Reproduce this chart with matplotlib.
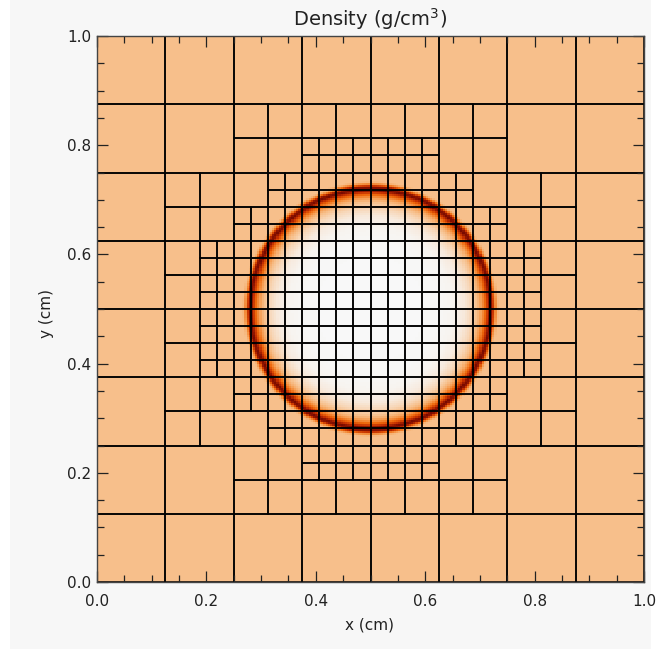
import numpy as np
import matplotlib.pyplot as plt
from matplotlib.colors import LinearSegmentedColormap
from matplotlib.patches import Rectangle
from matplotlib.ticker import MultipleLocator

# radial density profile (r in cm, rho in g/cm^3)
profile_r = [0.0, 0.12, 0.15, 0.17, 0.185, 0.195, 0.200, 0.205, 0.210, 0.215, 0.219, 0.223, 0.227, 0.231, 0.234, 1.0]
profile_rho = [0.0, 0.02, 0.08, 0.25, 0.6, 1.0, 1.4, 2.0, 2.7, 3.5, 4.2, 3.9, 2.5, 1.3, 1.0, 1.0]
center_x, center_y = 0.5, 0.5
n_cells = 256  # 32 finest blocks x 8 cells

# AMR mesh: 8x8 root blocks; refined blocks given per row (row, first col, last col)
lvl1_rows = [1, 2, 3, 4, 5, 6]
lvl1_first = [2, 1, 1, 1, 1, 2]
lvl1_last = [5, 6, 6, 6, 6, 5]
lvl2_rows = [3, 4, 5, 6, 7, 8, 9, 10, 11, 12]
lvl2_first = [6, 5, 4, 3, 3, 3, 3, 4, 5, 6]
lvl2_last = [9, 10, 11, 12, 12, 12, 12, 11, 10, 9]

ticks = [0.0, 0.2, 0.4, 0.6, 0.8, 1.0]


def refined_set(rows, first, last):
    return {(i, j) for j, a, b in zip(rows, first, last) for i in range(a, b + 1)}


ref1 = refined_set(lvl1_rows, lvl1_first, lvl1_last)
ref2 = refined_set(lvl2_rows, lvl2_first, lvl2_last)

blocks = []
for i in range(8):
    for j in range(8):
        if (i, j) not in ref1:
            blocks.append((i / 8, j / 8, 1 / 8))
            continue
        for di in (0, 1):
            for dj in (0, 1):
                mi, mj = 2 * i + di, 2 * j + dj
                if (mi, mj) not in ref2:
                    blocks.append((mi / 16, mj / 16, 1 / 16))
                    continue
                for ei in (0, 1):
                    for ej in (0, 1):
                        blocks.append(((2 * mi + ei) / 32, (2 * mj + ej) / 32, 1 / 32))

# density field on the finest cells
xc = (np.arange(n_cells) + 0.5) / n_cells
X, Y = np.meshgrid(xc, xc)
R = np.hypot(X - center_x, Y - center_y)
rho = np.interp(R, profile_r, profile_rho)

cmap = LinearSegmentedColormap.from_list(
    "dens",
    [(0.0, "#f8f8f8"), (0.238, "#f7bf8a"), (0.43, "#f5984a"),
     (0.62, "#ee680c"), (0.81, "#c43000"), (1.0, "#780a00")],
)

fig = plt.figure(figsize=(6.56, 6.49), dpi=100, facecolor="white")
fig.patches.append(Rectangle((10 / 656, 0), 641 / 656, 1, transform=fig.transFigure,
                             facecolor="#f7f7f7", edgecolor="none", zorder=-10))
ax = fig.add_axes([97 / 656, 67 / 649, 547 / 656, 546 / 649])

ax.imshow(rho, origin="lower", extent=[0, 1, 0, 1], cmap=cmap, vmin=0, vmax=4.2,
          interpolation="nearest", aspect="auto")

for x0, y0, s in blocks:
    ax.add_patch(Rectangle((x0, y0), s, s, fill=False, edgecolor="#000000", linewidth=1.1))

ax.set_xlim(0, 1)
ax.set_ylim(0, 1)
ax.set_xticks(ticks)
ax.set_yticks(ticks)
ax.set_xticklabels([f"{t:.1f}" for t in ticks])
ax.set_yticklabels([f"{t:.1f}" for t in ticks])
ax.xaxis.set_minor_locator(MultipleLocator(0.05))
ax.yaxis.set_minor_locator(MultipleLocator(0.05))
ax.tick_params(which="both", direction="in", top=True, right=True, color="#222222", width=0.9)
ax.tick_params(which="major", length=8.2, labelsize=11, labelcolor="#222222")
ax.tick_params(which="minor", length=4.7)
ax.tick_params(axis="x", pad=9)
ax.tick_params(axis="y", pad=4)
for sp in ax.spines.values():
    sp.set_color("#444444")
    sp.set_linewidth(1.0)

fig.text(370 / 656, 1 - 26 / 649, "Density (g/cm$^3$)", ha="center", va="baseline",
         fontsize=14, color="#222222")
fig.text(370 / 656, 1 - 629 / 649, "x (cm)", ha="center", va="baseline",
         fontsize=11, color="#222222")
fig.text(47 / 656, 1 - 313 / 649, "y (cm)", ha="center", va="center", rotation=90,
         fontsize=11, color="#222222")

fig.savefig("out.png", dpi=100, facecolor=fig.get_facecolor())
